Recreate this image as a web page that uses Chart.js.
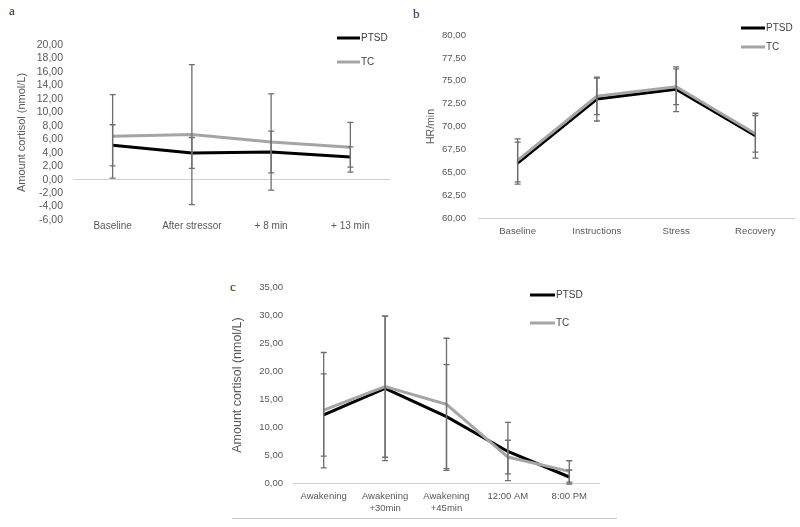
<!DOCTYPE html>
<html>
<head>
<meta charset="utf-8">
<script src="https://cdn.jsdelivr.net/npm/chart.js@4.4.1/dist/chart.umd.min.js"></script>
<style>
  body { margin: 0; background: #fff; width: 800px; height: 527px; position: relative; overflow: hidden; }
  .box { position: absolute; }
  .tag { position: absolute; font-family: "Liberation Serif", serif; font-size: 13px; color: #222; }
  .rule { position: absolute; left: 232px; top: 518px; width: 385px; height: 1px; background: #c8c8c8; }
</style>
</head>
<body>
<div class="tag" style="left:9px;top:3px">a</div>
<div class="tag" style="left:413px;top:6px">b</div>
<div class="tag" style="left:230px;top:279px">c</div>
<div class="box" style="left:0;top:0;width:400px;height:240px"><canvas id="chartA"></canvas></div>
<div class="box" style="left:400px;top:0;width:400px;height:240px"><canvas id="chartB"></canvas></div>
<div class="box" style="left:220px;top:270px;width:400px;height:257px"><canvas id="chartC"></canvas></div>
<div class="rule"></div>
<script>
// panel a: saliva cortisol during the stress test
const catsA = ["Baseline", "After stressor", "+ 8 min", "+ 13 min"];
const ptsdA = [5.1, 3.96, 4.1, 3.37];
const tcA = [6.43, 6.69, 5.6, 4.8];
const ptsdErrA = [3.05, 2.3, 3.1, 1.5];
const tcErrA = [6.2, 10.4, 7.15, 3.7];

// panel b: heart rate
const catsB = ["Baseline", "Instructions", "Stress", "Recovery"];
const ptsdB = [66.0, 73.0, 74.07, 69.0];
const tcB = [66.3, 73.3, 74.35, 69.2];
const ptsdErrB = [2.3, 2.4, 2.45, 2.45];
const tcErrB = [2.35, 2.0, 1.95, 2.0];

// panel c: cortisol over the day
const catsC = ["Awakening", ["Awakening", "+30min"], ["Awakening", "+45min"], "12:00 AM", "8:00 PM"];
const ptsdC = [12.15, 16.9, 11.85, 5.63, 1.07];
const tcC = [13.0, 17.2, 14.05, 4.63, 2.07];
const ptsdErrC = [7.35, 12.9, 9.3, 5.2, 1.25];
const tcErrC = [10.3, 12.6, 11.8, 3.0, 1.9];

const seriesNames = ["PTSD", "TC"];
const seriesColors = ["#000000", "#a5a5a5"];

const fmt = v => v.toFixed(2).replace(".", ",");
const tickColor = "#595959";
const family = "'Liberation Sans', Arial, sans-serif";

const errorBars = {
  id: "errorBars",
  afterDatasetsDraw(chart) {
    const ctx = chart.ctx;
    const y = chart.scales.y;
    ctx.save();
    ctx.strokeStyle = "#6e6e6e";
    ctx.lineWidth = 1.3;
    chart.data.datasets.forEach((ds, i) => {
      const meta = chart.getDatasetMeta(i);
      ds.errors.forEach((e, j) => {
        const px = meta.data[j].x;
        const top = y.getPixelForValue(ds.data[j] + e);
        const bot = y.getPixelForValue(ds.data[j] - e);
        ctx.beginPath();
        ctx.moveTo(px, top); ctx.lineTo(px, bot);
        ctx.moveTo(px - 3, top); ctx.lineTo(px + 3, top);
        ctx.moveTo(px - 3, bot); ctx.lineTo(px + 3, bot);
        ctx.stroke();
      });
    });
    ctx.restore();
  }
};

const lineLegend = {
  id: "lineLegend",
  afterDraw(chart, args, opts) {
    const ctx = chart.ctx;
    ctx.save();
    ctx.font = opts.size + "px " + family;
    ctx.textBaseline = "middle";
    seriesNames.forEach((name, i) => {
      const yy = opts.y + i * opts.gap;
      ctx.strokeStyle = seriesColors[i];
      ctx.lineWidth = 3;
      ctx.beginPath();
      ctx.moveTo(opts.x, yy);
      ctx.lineTo(opts.x + opts.len, yy);
      ctx.stroke();
      ctx.fillStyle = "#404040";
      ctx.fillText(name, opts.x + opts.len + 1, yy + 0.5);
    });
    ctx.restore();
  }
};

function makeChart(id, cats, ptsd, tc, ptsdErr, tcErr, s) {
  return new Chart(document.getElementById(id), {
    type: "line",
    data: {
      labels: cats,
      datasets: [
        { label: seriesNames[0], data: ptsd, errors: ptsdErr, borderColor: seriesColors[0],
          borderWidth: 3, pointRadius: 0, tension: 0, order: 1 },
        { label: seriesNames[1], data: tc, errors: tcErr, borderColor: seriesColors[1],
          borderWidth: 3, pointRadius: 0, tension: 0, order: 0 }
      ]
    },
    options: {
      responsive: true,
      maintainAspectRatio: false,
      animation: false,
      layout: { padding: s.padding },
      plugins: {
        legend: { display: false },
        tooltip: { enabled: false },
        lineLegend: s.legend
      },
      scales: {
        x: {
          offset: true,
          grid: { display: false, drawTicks: false },
          border: { display: false },
          ticks: { color: tickColor, padding: s.xPad, maxRotation: 0, autoSkip: false,
                   font: { family, size: s.xFont } },
          afterFit: sc => { sc.height = s.xHeight; }
        },
        y: {
          min: s.min, max: s.max,
          grid: { drawTicks: false, lineWidth: 1,
                  color: c => c.tick.value === s.base ? "#d0d0d0" : "rgba(0,0,0,0)" },
          border: { display: false },
          ticks: { stepSize: s.step, autoSkip: false, color: tickColor, padding: s.yPad,
                   font: { family, size: s.yFont }, callback: v => fmt(v) },
          title: { display: true, text: s.title, color: tickColor,
                   font: { family, size: s.titleFont } },
          afterFit: sc => { sc.width = s.yWidth; }
        }
      }
    },
    plugins: [errorBars, lineLegend]
  });
}

makeChart("chartA", catsA, ptsdA, tcA, ptsdErrA, tcErrA, {
  padding: { left: 11, top: 45, right: 10, bottom: 0 },
  min: -6, max: 20, step: 2, base: 0,
  xPad: 0, xHeight: 20, xFont: 10, yFont: 10.5, yPad: 10, yWidth: 62,
  title: "Amount cortisol (nmol/L)", titleFont: 11,
  legend: { x: 337, y: 38, gap: 24, len: 23, size: 10 }
});

makeChart("chartB", catsB, ptsdB, tcB, ptsdErrB, tcErrB, {
  padding: { left: 21, top: 35, right: 5, bottom: 0 },
  min: 60, max: 80, step: 2.5, base: 60,
  xPad: 8, xHeight: 22, xFont: 9.6, yFont: 9.6, yPad: 12, yWidth: 57,
  title: "HR/min", titleFont: 10.5,
  legend: { x: 341, y: 28, gap: 19, len: 24, size: 10 }
});

makeChart("chartC", catsC, ptsdC, tcC, ptsdErrC, tcErrC, {
  padding: { left: 6, top: 17, right: 20, bottom: 0 },
  min: 0, max: 35, step: 5, base: 0,
  xPad: 8, xHeight: 44, xFont: 9.5, yFont: 9.5, yPad: 10, yWidth: 67,
  title: "Amount cortisol (nmol/L)", titleFont: 12.5,
  legend: { x: 310, y: 25, gap: 28, len: 25, size: 10 }
});
</script>
</body>
</html>
